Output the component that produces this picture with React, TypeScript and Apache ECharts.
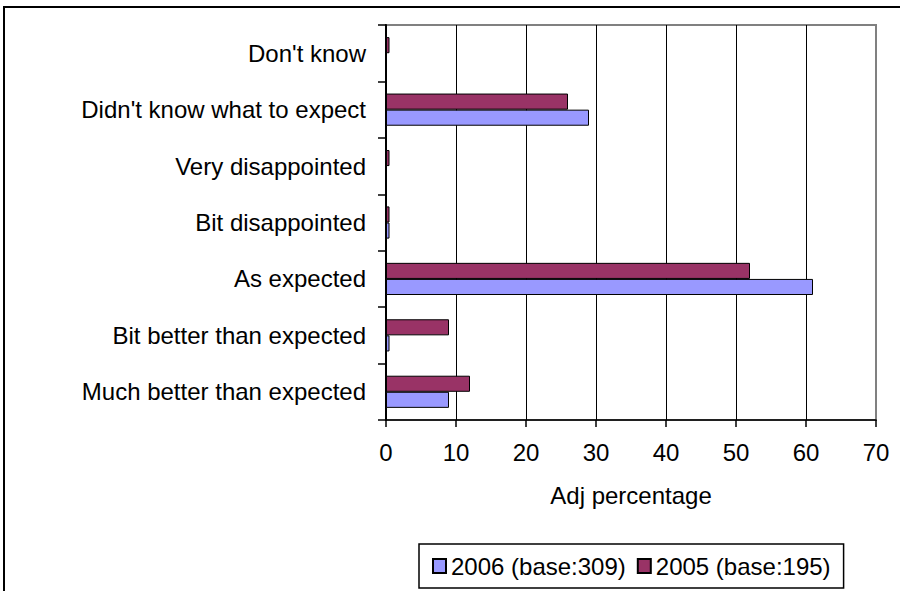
import React, { useEffect, useRef } from "react";
import * as echarts from "echarts";

const categories = [
  "Much better than expected",
  "Bit better than expected",
  "As expected",
  "Bit disappointed",
  "Very disappointed",
  "Didn't know what to expect",
  "Don't know",
];
const series2006 = [9, 0.5, 61, 0.5, 0, 29, 0];
const series2005 = [12, 9, 52, 0.5, 0.5, 26, 0.5];
const seriesNames = ["2006 (base:309)", "2005 (base:195)"];
const xTicks = { min: 0, max: 70, interval: 10 };
const axisName = "Adj percentage";

const FONT = "'Liberation Sans', Arial, sans-serif";

export default function App() {
  const ref = useRef<HTMLDivElement>(null);
  useEffect(() => {
    if (!ref.current) return;
    const chart = echarts.init(ref.current, undefined, { renderer: "svg" });
    chart.setOption({
      animation: false,
      backgroundColor: "#ffffff",
      textStyle: { fontFamily: FONT, color: "#000" },
      graphic: [
        {
          type: "rect",
          shape: { x: 4, y: 7, width: 1000, height: 1000 },
          style: { fill: "none", stroke: "#000", lineWidth: 2 },
          silent: true,
        },
      ],
      grid: {
        left: 386,
        right: 24,
        top: 25,
        bottom: 171,
        show: true,
        borderColor: "#808080",
        borderWidth: 2,
        backgroundColor: "transparent",
      },
      legend: {
        data: seriesNames,
        left: 419,
        top: 544,
        orient: "horizontal",
        padding: [10, 13],
        itemGap: 11,
        itemWidth: 13,
        itemHeight: 14,
        borderColor: "#000",
        borderWidth: 1.5,
        textStyle: { fontFamily: FONT, fontSize: 24, color: "#000" },
        icon: "rect",
      },
      xAxis: {
        type: "value",
        min: xTicks.min,
        max: xTicks.max,
        interval: xTicks.interval,
        name: axisName,
        nameLocation: "middle",
        nameGap: 63,
        nameTextStyle: { fontFamily: FONT, fontSize: 24, color: "#000" },
        axisLine: { show: true, lineStyle: { color: "#000", width: 1.5 } },
        axisTick: { show: true, length: 7, lineStyle: { color: "#000", width: 1.5 } },
        axisLabel: { fontFamily: FONT, fontSize: 24, color: "#000", margin: 20 },
        splitLine: {
          show: true,
          lineStyle: {
            color: ["#000", "#000", "#000", "#000", "#000", "#000", "#000", "#808080"],
            width: 1,
          },
        },
      },
      yAxis: {
        type: "category",
        data: categories,
        axisLine: { show: true, lineStyle: { color: "#000", width: 2 } },
        axisTick: { show: true, length: 8, lineStyle: { color: "#000", width: 1.5 } },
        axisLabel: { fontFamily: FONT, fontSize: 24, color: "#000", margin: 20 },
        splitLine: { show: false },
      },
      series: [
        {
          name: seriesNames[1],
          type: "bar",
          data: series2005,
          barGap: "0%",
          barCategoryGap: "43%",
          itemStyle: { color: "#993366", borderColor: "#000", borderWidth: 1 },
        },
        {
          name: seriesNames[0],
          type: "bar",
          data: series2006,
          barGap: "0%",
          barCategoryGap: "43%",
          itemStyle: { color: "#9999FF", borderColor: "#000", borderWidth: 1 },
        },
      ],
    });
    return () => chart.dispose();
  }, []);
  return (
    <div
      ref={ref}
      style={{ position: "absolute", left: 0, top: 0, width: 900, height: 591, background: "#fff" }}
    />
  );
}
